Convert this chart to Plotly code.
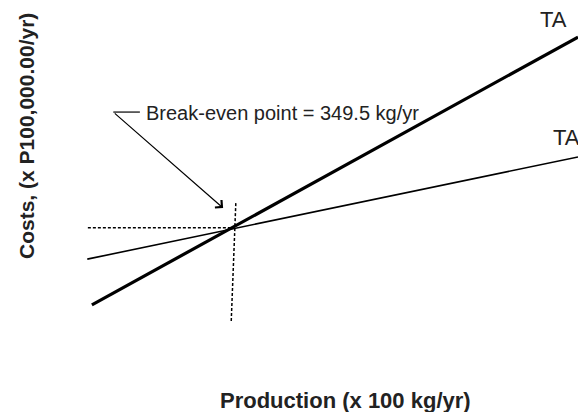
import plotly.graph_objects as go

# Data (arbitrary units)
production_ta_steep = [15.9, 100.0]
cost_ta_steep = [26.0, 91.0]
production_ta_flat = [15.1, 100.0]
cost_ta_flat = [37.1, 61.9]
guide_h_x = [15.2, 40.5]
guide_h_y = [44.7, 44.7]
guide_v_x = [40.8, 40.0]
guide_v_y = [50.7, 21.8]
callout_x = [24.2, 19.6]
callout_y = [72.8, 72.8]
arrow_head = (38.6, 49.5)
label_text = "Break-even point = 349.5 kg/yr"
series_labels = ["TA", "TA"]

FONT = "Liberation Sans, Arial"

fig = go.Figure()
fig.add_trace(go.Scatter(x=guide_h_x, y=guide_h_y, mode="lines",
                         line=dict(color="black", width=1.5, dash="3px,2px"), showlegend=False))
fig.add_trace(go.Scatter(x=guide_v_x, y=guide_v_y, mode="lines",
                         line=dict(color="black", width=1.5, dash="3px,2px"), showlegend=False))
fig.add_trace(go.Scatter(x=production_ta_flat, y=cost_ta_flat, mode="lines",
                         line=dict(color="black", width=1.6), showlegend=False))
fig.add_trace(go.Scatter(x=production_ta_steep, y=cost_ta_steep, mode="lines",
                         line=dict(color="black", width=3.2), showlegend=False))
fig.add_trace(go.Scatter(x=callout_x, y=callout_y, mode="lines",
                         line=dict(color="black", width=1.2), showlegend=False))

fig.add_annotation(x=arrow_head[0], y=arrow_head[1], ax=callout_x[1], ay=callout_y[1],
                   xref="x", yref="y", axref="x", ayref="y", text="",
                   showarrow=True, arrowhead=4, arrowsize=1.6, arrowwidth=1.2, arrowcolor="black")
fig.add_annotation(x=144 / 5.78, y=(412 - 113) / 4.12, xref="x", yref="y", text=label_text,
                   showarrow=False, xanchor="left", yanchor="middle",
                   font=dict(family=FONT, size=20, color="#222"))
fig.add_annotation(x=538 / 5.78, y=(412 - 19) / 4.12, xref="x", yref="y", text=series_labels[0],
                   showarrow=False, xanchor="left", yanchor="middle",
                   font=dict(family=FONT, size=22, color="#222"))
fig.add_annotation(x=551 / 5.78, y=(412 - 137.5) / 4.12, xref="x", yref="y", text=series_labels[1],
                   showarrow=False, xanchor="left", yanchor="middle",
                   font=dict(family=FONT, size=22, color="#222"))
fig.add_annotation(x=26 / 578, y=1 - 136 / 412, xref="paper", yref="paper",
                   text="<b>Costs, (x P100,000.00/yr)</b>", textangle=-90, showarrow=False,
                   xanchor="center", yanchor="middle",
                   font=dict(family=FONT, size=21, color="#222"))
fig.add_annotation(x=345 / 578, y=1 - 400 / 412, xref="paper", yref="paper",
                   text="<b>Production (x 100 kg/yr)</b>", showarrow=False,
                   xanchor="center", yanchor="middle",
                   font=dict(family=FONT, size=22, color="#222"))

fig.update_xaxes(range=[0, 100], visible=False, fixedrange=True)
fig.update_yaxes(range=[0, 100], visible=False, fixedrange=True)
fig.update_layout(width=578, height=412, margin=dict(l=0, r=0, t=0, b=0),
                  plot_bgcolor="white", paper_bgcolor="white")
fig.write_html("out.html", config={"displayModeBar": False},
               post_script="document.body.style.margin='0';document.body.style.overflow='hidden';")
